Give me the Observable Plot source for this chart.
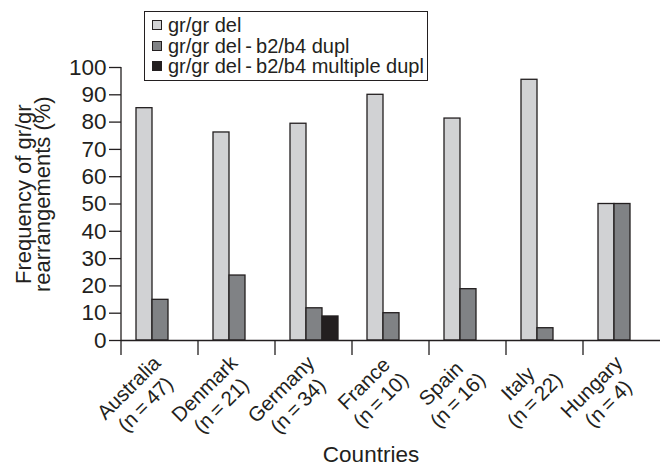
<!DOCTYPE html>
<html>
<head>
<meta charset="utf-8">
<script src="https://cdn.jsdelivr.net/npm/d3@7"></script>
<script src="https://cdn.jsdelivr.net/npm/@observablehq/plot@0.6"></script>
<style>
  html, body { margin: 0; padding: 0; background: #fff; }
  #wrap { position: relative; width: 662px; height: 467px; font-family: "Liberation Sans", Arial, Helvetica, sans-serif; color: #231f20; overflow: hidden; }
  #legend { position: absolute; left: 144px; top: 11px; width: 284px; height: 70px; box-sizing: border-box; border: 1.5px solid #231f20; background: #fff; padding-top: 3px; }
  #legend .row { height: 20.5px; line-height: 20.5px; font-size: 20px; white-space: nowrap; display: flex; align-items: center; }
  #legend .sw { display: inline-block; width: 8px; height: 8px; border: 1px solid #231f20; margin-left: 7px; margin-right: 6px; }
  #ylabel { position: absolute; left: 0; top: 0; font-size: 22px; line-height: 19px; text-align: center; white-space: nowrap; transform-origin: 0 0; }
  #xlabel { position: absolute; font-size: 22.5px; white-space: nowrap; transform: translateX(-50%); }
</style>
</head>
<body>
<div id="wrap"></div>
<script>
// ---- data ----
const countries = ["Australia", "Denmark", "Germany", "France", "Spain", "Italy", "Hungary"];
const sampleSizes = [47, 21, 34, 10, 16, 22, 4];
const seriesNames = ["gr/gr del", "gr/gr del\u2009-\u2009b2/b4 dupl", "gr/gr del\u2009-\u2009b2/b4 multiple dupl"];
const delValues = [85.1, 76.2, 79.4, 90.0, 81.3, 95.5, 50.0];
const duplValues = [14.9, 23.8, 11.8, 10.0, 18.8, 4.5, 50.0];
const multiDuplValues = [0, 0, 8.8, 0, 0, 0, 0];
const seriesColors = ["#d1d2d4", "#808285", "#231f20"];
const yTicks = [0, 10, 20, 30, 40, 50, 60, 70, 80, 90, 100];
const yLabelLines = ["Frequency of gr/gr", "rearrangements (%)"];
const xTitle = "Countries";

const valueArrays = [delValues, duplValues, multiDuplValues];
const rows = [];
countries.forEach((c, i) => {
  valueArrays.forEach((arr, s) => {
    if (arr[i] > 0) rows.push({country: c, series: seriesNames[s], value: arr[i]});
  });
});
const nByCountry = new Map(countries.map((c, i) => [c, sampleSizes[i]]));

const ink = "#231f20";
const chart = Plot.plot({
  width: 662,
  height: 467,
  marginLeft: 118,
  marginRight: 0,
  marginTop: 67,
  marginBottom: 127,
  style: {fontFamily: '"Liberation Sans", Arial, sans-serif', color: ink, background: "transparent", overflow: "visible"},
  fx: {domain: countries, padding: 0, label: null},
  x: {domain: seriesNames, paddingInner: 0, paddingOuter: 0.8, axis: null},
  y: {domain: [0, 100], label: null},
  color: {domain: seriesNames, range: seriesColors},
  marks: [
    Plot.barY(rows, {fx: "country", x: "series", y: "value", fill: "series", stroke: ink, strokeWidth: 1.3}),
    Plot.ruleY([0], {stroke: ink, strokeWidth: 1.3}),
    Plot.axisY({ticks: yTicks, tickSize: 12, tickPadding: 3, fontSize: 22.5, label: null, stroke: ink, strokeWidth: 1.3, fill: ink}),
    Plot.axisFx({anchor: "bottom", tickSize: 0, tickPadding: 12, dx: -10, tickRotate: -45, textAnchor: "end", lineAnchor: "top",
      fontSize: 20.5, lineHeight: 1.15, fill: ink, label: null,
      tickFormat: c => `${c}\n(n\u2009=\u2009${nByCountry.get(c)})`})
  ]
});

// edge ticks between country groups and the vertical axis line, positioned with Plot's own scales
const fx = chart.scale("fx");
const y = chart.scale("y");
const svg = d3.select(chart);
const y0 = y.apply(0), y100 = y.apply(100);
const xLeft = fx.apply(countries[0]);
svg.append("line").attr("x1", xLeft).attr("x2", xLeft).attr("y1", y100).attr("y2", y0)
  .attr("stroke", ink).attr("stroke-width", 1.3);
countries.forEach(c => {
  const xe = fx.apply(c);
  svg.append("line").attr("x1", xe).attr("x2", xe).attr("y1", y0).attr("y2", y0 + 15)
    .attr("stroke", ink).attr("stroke-width", 1.3);
});

const wrap = document.getElementById("wrap");
wrap.appendChild(chart);

// centre the two lines of each rotated country label within its block (block stays end-anchored)
chart.querySelectorAll('g[aria-label="fx-axis tick label"] text').forEach(t => {
  const spans = Array.from(t.querySelectorAll("tspan"));
  if (spans.length < 2) return;
  const maxW = Math.max(...spans.map(s => s.getComputedTextLength()));
  t.setAttribute("text-anchor", "middle");
  spans.forEach(s => s.setAttribute("x", -maxW / 2));
});

// legend (overlaps the plot top, as in the reference)
const legend = document.createElement("div");
legend.id = "legend";
seriesNames.forEach((s, i) => {
  const row = document.createElement("div");
  row.className = "row";
  const sw = document.createElement("span");
  sw.className = "sw";
  sw.style.background = seriesColors[i];
  row.appendChild(sw);
  row.appendChild(document.createTextNode(s));
  legend.appendChild(row);
});
wrap.appendChild(legend);

// y-axis title (two lines, rotated, centred)
const yl = document.createElement("div");
yl.id = "ylabel";
yl.innerHTML = yLabelLines.join("<br>");
wrap.appendChild(yl);
const ylW = yl.offsetWidth;
yl.style.transform = `translate(14px, ${194 + ylW / 2}px) rotate(-90deg)`;

// x-axis title
const xl = document.createElement("div");
xl.id = "xlabel";
xl.textContent = xTitle;
xl.style.left = "371px";
xl.style.top = "442px";
wrap.appendChild(xl);
</script>
</body>
</html>
